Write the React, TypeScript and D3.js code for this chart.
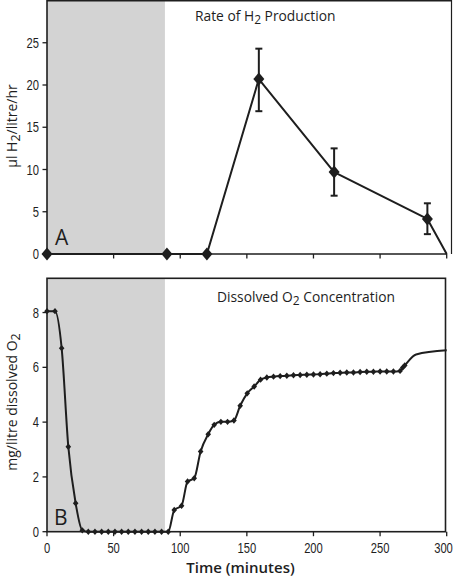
import React from "react";
import * as d3 from "d3";

// ---- Panel A: rate of H2 production ----
const h2Time = [0, 90, 120, 159, 215.5, 285.5, 300];
const h2Rate = [0, 0, 0, 20.7, 9.7, 4.15, 0];
const h2ErrLow = [null, null, null, 16.9, 6.9, 2.35, null];
const h2ErrHigh = [null, null, null, 24.3, 12.5, 6.0, null];
const h2Marked = [true, true, true, true, true, true, false];

// ---- Panel B: dissolved O2 ----
const o2Time = [
  0, 6, 11, 16, 21.5, 26.5, 31, 36, 41, 46, 51, 56, 61, 66, 71, 76, 81, 86, 91,
  95.5, 101, 105.5, 110.5, 115.3, 121, 125.5, 130.5, 135.5, 140.3, 145, 150.3,
  155.5, 160.3, 165, 170, 175, 180, 185, 190, 195, 200, 205, 210, 215, 220, 225,
  230, 235, 240, 245, 250, 255, 260, 265, 267, 268.5, 277, 300,
];
const o2Value = [
  8.05, 8.05, 6.7, 3.1, 1.04, 0.05, 0, 0, 0, 0, 0, 0, 0, 0, 0, 0, 0, 0, 0,
  0.79, 0.95, 1.83, 1.95, 2.93, 3.56, 3.9, 4.01, 4.01, 4.06, 4.6, 5.05,
  5.3, 5.55, 5.63, 5.66, 5.68, 5.69, 5.71, 5.72, 5.73, 5.74, 5.75, 5.77, 5.79, 5.8, 5.81,
  5.81, 5.83, 5.84, 5.84, 5.85, 5.85, 5.85, 5.87, 5.99, 6.07, 6.47, 6.62,
];
const O2_UNMARKED_TAIL = 2;

const xTicks = [0, 50, 100, 150, 200, 250, 300];
const yTopTicks = [0, 5, 10, 15, 20, 25];
const yBotTicks = [0, 2, 4, 6, 8];
const darkPeriod = [0, 88.5];

const INK = "#1e1e1e";
const SHADE = "#d3d3d3";
const HUMAN = "'Open Sans', 'Noto Sans', sans-serif";
const NARROW = "'Liberation Sans', Arial, sans-serif";

const x = d3.scaleLinear().domain([0, 300]).range([47, 446.7]);
const yTop = d3.scaleLinear().domain([0, 30]).range([254, 0.5]);
const yBot = d3.scaleLinear().domain([0, 9.25]).range([531.7, 278.3]);

function diamond(cx: number, cy: number, w: number, h: number) {
  return `M${cx},${cy - h}L${cx + w},${cy}L${cx},${cy + h}L${cx - w},${cy}Z`;
}

function NarrowText(props: { x: number; y: number; anchor: string; children: any }) {
  return (
    <text
      transform={`translate(${props.x},${props.y}) scale(0.8,1)`}
      textAnchor={props.anchor}
      fontFamily={NARROW}
      fontSize={14}
      fill={INK}
    >
      {props.children}
    </text>
  );
}

export default function App() {
  const h2Pts = h2Time.map((t, i) => [x(t), yTop(h2Rate[i])] as [number, number]);
  const h2Line = d3.line()(h2Pts) || "";
  const o2Pts = o2Time.map((t, i) => [x(t), yBot(o2Value[i])] as [number, number]);
  const o2Line = d3.line().curve(d3.curveMonotoneX)(o2Pts) || "";

  const x0 = x(0);
  const xEnd = x(300);

  return (
    <div style={{ position: "fixed", left: 0, top: 0 }}>
      <svg width={453} height={577} style={{ display: "block", background: "#fff" }}>
        {/* ---------- Panel A ---------- */}
        <rect x={x(darkPeriod[0])} y={yTop(30)} width={x(darkPeriod[1]) - x(darkPeriod[0])} height={yTop(0) - yTop(30)} fill={SHADE} />
        <line x1={x0} x2={451.5} y1={0.8} y2={0.8} stroke={INK} strokeWidth={1.6} />
        <line x1={451.5} x2={451.5} y1={0} y2={yTop(0)} stroke={INK} strokeWidth={1.2} />
        <line x1={x0} x2={x0} y1={0} y2={yTop(0)} stroke={INK} strokeWidth={1.6} />
        <line x1={x0} x2={xEnd} y1={yTop(0)} y2={yTop(0)} stroke={INK} strokeWidth={1.6} />
        {yTopTicks.map((v) => (
          <g key={"yt" + v}>
            <line x1={x0 - 4.5} x2={x0} y1={yTop(v)} y2={yTop(v)} stroke={INK} strokeWidth={1.3} />
            <NarrowText x={x0 - 8} y={yTop(v) + 5} anchor="end">{v}</NarrowText>
          </g>
        ))}
        {xTicks.map((t) => (
          <line key={"xt" + t} x1={x(t)} x2={x(t)} y1={yTop(0)} y2={yTop(0) + 4.5} stroke={INK} strokeWidth={1.3} />
        ))}
        <path d={h2Line} fill="none" stroke={INK} strokeWidth={2} strokeLinejoin="round" />
        {h2Time.map((t, i) =>
          h2ErrLow[i] != null ? (
            <g key={"eb" + i} stroke={INK} strokeWidth={2}>
              <line x1={x(t)} x2={x(t)} y1={yTop(h2ErrLow[i] as number)} y2={yTop(h2ErrHigh[i] as number)} />
              <line x1={x(t) - 3.5} x2={x(t) + 3.5} y1={yTop(h2ErrLow[i] as number)} y2={yTop(h2ErrLow[i] as number)} />
              <line x1={x(t) - 3.5} x2={x(t) + 3.5} y1={yTop(h2ErrHigh[i] as number)} y2={yTop(h2ErrHigh[i] as number)} />
            </g>
          ) : null
        )}
        {h2Time.map((t, i) =>
          h2Marked[i] ? <path key={"hm" + i} d={diamond(x(t), yTop(h2Rate[i]), 5.5, 6.5)} fill={INK} /> : null
        )}
        <text x={195} y={21} fontFamily={HUMAN} fontSize={13.8} fill={INK}>
          Rate of H<tspan fontSize={12} dy={2.5}>2</tspan><tspan dy={-2.5}> Production</tspan>
        </text>
        <text x={55} y={245} fontFamily={HUMAN} fontSize={21} fill={INK}>A</text>
        <text transform={`translate(17,126) rotate(-90)`} textAnchor="middle" fontFamily={HUMAN} fontSize={14} fill={INK}>
          µl H<tspan fontSize={12.5} dy={2.5}>2</tspan><tspan dy={-2.5}>/litre/hr</tspan>
        </text>

        {/* ---------- Panel B ---------- */}
        <rect x={x(darkPeriod[0])} y={yBot(9.25)} width={x(darkPeriod[1]) - x(darkPeriod[0])} height={yBot(0) - yBot(9.25)} fill={SHADE} />
        <rect x={x0} y={yBot(9.25)} width={445.5 - x0} height={yBot(0) - yBot(9.25)} fill="none" stroke={INK} strokeWidth={1.6} />
        {yBotTicks.map((v) => (
          <g key={"yb" + v}>
            <line x1={x0 - 4.5} x2={x0} y1={yBot(v)} y2={yBot(v)} stroke={INK} strokeWidth={1.3} />
            <NarrowText x={x0 - 8} y={yBot(v) + 5} anchor="end">{v}</NarrowText>
          </g>
        ))}
        {xTicks.map((t) => (
          <g key={"xb" + t}>
            <line x1={x(t)} x2={x(t)} y1={yBot(0)} y2={yBot(0) + 4.5} stroke={INK} strokeWidth={1.3} />
            <NarrowText x={Math.min(x(t), 443.5)} y={yBot(0) + 21} anchor="middle">{t}</NarrowText>
          </g>
        ))}
        <path d={o2Line} fill="none" stroke={INK} strokeWidth={2} strokeLinejoin="round" />
        {o2Time.map((t, i) =>
          i < o2Time.length - O2_UNMARKED_TAIL ? (
            <path key={"om" + i} d={diamond(x(t), yBot(o2Value[i]), 2.8, 3.2)} fill={INK} />
          ) : null
        )}
        <text x={217} y={302} fontFamily={HUMAN} fontSize={13.8} fill={INK}>
          Dissolved O<tspan fontSize={12} dy={2.5}>2</tspan><tspan dy={-2.5}> Concentration</tspan>
        </text>
        <text x={54} y={525} fontFamily={HUMAN} fontSize={21} fill={INK}>B</text>
        <text transform={`translate(17,402) rotate(-90)`} textAnchor="middle" fontFamily={HUMAN} fontSize={14} fill={INK}>
          mg/litre dissolved O<tspan fontSize={12.5} dy={2.5}>2</tspan>
        </text>
        <text x={240.5} y={573} textAnchor="middle" fontFamily={HUMAN} fontSize={15} fontWeight={600} fill={INK}>
          Time (minutes)
        </text>
      </svg>
    </div>
  );
}
